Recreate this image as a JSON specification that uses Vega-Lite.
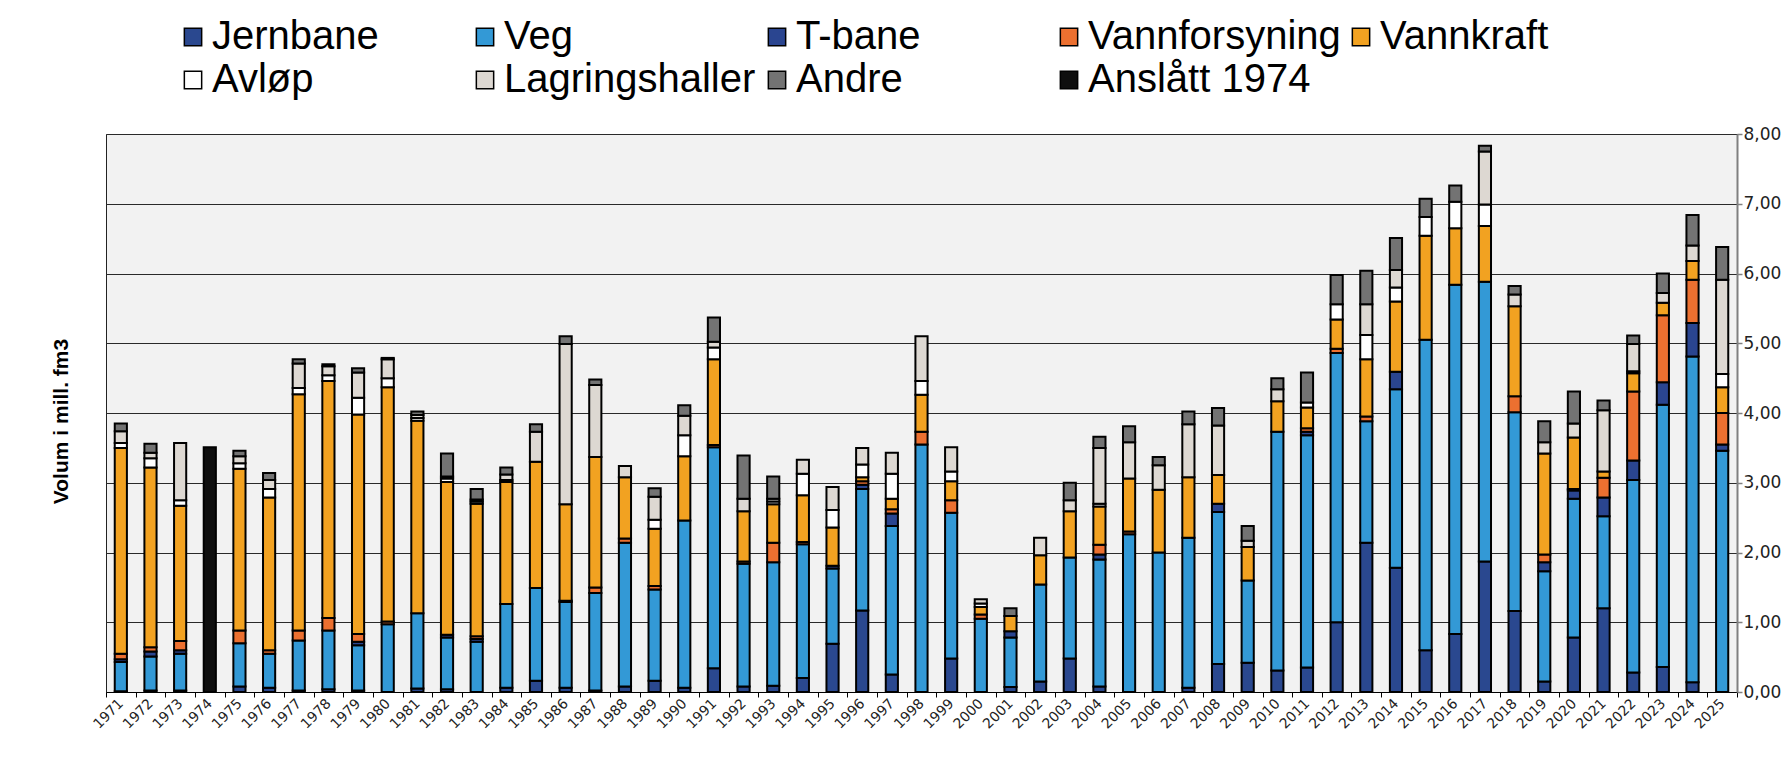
{
  "$schema": "https://vega.github.io/schema/vega-lite/v6.json",
  "width": 1631,
  "height": 558,
  "autosize": "none",
  "padding": {"left": 106, "top": 134, "right": 51, "bottom": 80},
  "background": "white",
  "data": {
    "values": [
      {"year": "1971", "Jernbane": 0.01, "Veg": 0.42, "T-bane": 0.04, "Vannforsyning": 0.08, "Vannkraft": 2.95, "Avløp": 0.07, "Lagringshaller": 0.17, "Andre": 0.11},
      {"year": "1972", "Jernbane": 0.02, "Veg": 0.49, "T-bane": 0.07, "Vannforsyning": 0.06, "Vannkraft": 2.58, "Avløp": 0.13, "Lagringshaller": 0.08, "Andre": 0.13},
      {"year": "1973", "Jernbane": 0.02, "Veg": 0.53, "T-bane": 0.05, "Vannforsyning": 0.13, "Vannkraft": 1.94, "Avløp": 0.08, "Lagringshaller": 0.82},
      {"year": "1974", "Anslått 1974": 3.51},
      {"year": "1975", "Jernbane": 0.08, "Veg": 0.62, "Vannforsyning": 0.18, "Vannkraft": 2.32, "Avløp": 0.08, "Lagringshaller": 0.10, "Andre": 0.08},
      {"year": "1976", "Jernbane": 0.06, "Veg": 0.49, "Vannforsyning": 0.05, "Vannkraft": 2.19, "Avløp": 0.12, "Lagringshaller": 0.13, "Andre": 0.10},
      {"year": "1977", "Jernbane": 0.02, "Veg": 0.72, "Vannforsyning": 0.14, "Vannkraft": 3.39, "Avløp": 0.09, "Lagringshaller": 0.35, "Andre": 0.06},
      {"year": "1978", "Jernbane": 0.04, "Veg": 0.84, "Vannforsyning": 0.18, "Vannkraft": 3.40, "Avløp": 0.08, "Lagringshaller": 0.13, "Andre": 0.03},
      {"year": "1979", "Jernbane": 0.02, "Veg": 0.65, "T-bane": 0.05, "Vannforsyning": 0.11, "Vannkraft": 3.15, "Avløp": 0.24, "Lagringshaller": 0.36, "Andre": 0.06},
      {"year": "1980", "Veg": 0.97, "Vannforsyning": 0.04, "Vannkraft": 3.36, "Avløp": 0.13, "Lagringshaller": 0.27, "Andre": 0.02},
      {"year": "1981", "Jernbane": 0.05, "Veg": 1.08, "Vannkraft": 2.76, "Avløp": 0.04, "Lagringshaller": 0.04, "Andre": 0.05},
      {"year": "1982", "Jernbane": 0.04, "Veg": 0.74, "T-bane": 0.04, "Vannkraft": 2.19, "Avløp": 0.05, "Lagringshaller": 0.03, "Andre": 0.33},
      {"year": "1983", "Veg": 0.72, "T-bane": 0.04, "Vannforsyning": 0.04, "Vannkraft": 1.90, "Avløp": 0.03, "Lagringshaller": 0.03, "Andre": 0.15},
      {"year": "1984", "Jernbane": 0.06, "Veg": 1.20, "Vannkraft": 1.75, "Avløp": 0.03, "Lagringshaller": 0.08, "Andre": 0.10},
      {"year": "1985", "Jernbane": 0.16, "Veg": 1.33, "Vannkraft": 1.81, "Lagringshaller": 0.43, "Andre": 0.11},
      {"year": "1986", "Jernbane": 0.06, "Veg": 1.23, "T-bane": 0.02, "Vannkraft": 1.38, "Lagringshaller": 2.30, "Andre": 0.11},
      {"year": "1987", "Jernbane": 0.02, "Veg": 1.40, "Vannforsyning": 0.08, "Vannkraft": 1.87, "Lagringshaller": 1.03, "Andre": 0.08},
      {"year": "1988", "Jernbane": 0.08, "Veg": 2.06, "Vannforsyning": 0.06, "Vannkraft": 0.88, "Lagringshaller": 0.16},
      {"year": "1989", "Jernbane": 0.16, "Veg": 1.31, "Vannforsyning": 0.05, "Vannkraft": 0.82, "Avløp": 0.13, "Lagringshaller": 0.33, "Andre": 0.12},
      {"year": "1990", "Jernbane": 0.06, "Veg": 2.40, "Vannkraft": 0.92, "Avløp": 0.30, "Lagringshaller": 0.28, "Andre": 0.15},
      {"year": "1991", "Jernbane": 0.34, "Veg": 3.17, "Vannforsyning": 0.03, "Vannkraft": 1.23, "Avløp": 0.17, "Lagringshaller": 0.08, "Andre": 0.35},
      {"year": "1992", "Jernbane": 0.08, "Veg": 1.76, "Vannforsyning": 0.03, "Vannkraft": 0.72, "Lagringshaller": 0.18, "Andre": 0.62},
      {"year": "1993", "Jernbane": 0.09, "Veg": 1.77, "Vannforsyning": 0.28, "Vannkraft": 0.55, "Avløp": 0.04, "Lagringshaller": 0.04, "Andre": 0.32},
      {"year": "1994", "Jernbane": 0.20, "Veg": 1.92, "Vannforsyning": 0.03, "Vannkraft": 0.67, "Avløp": 0.31, "Lagringshaller": 0.20},
      {"year": "1995", "Jernbane": 0.69, "Veg": 1.08, "T-bane": 0.04, "Vannkraft": 0.55, "Avløp": 0.25, "Lagringshaller": 0.33},
      {"year": "1996", "Jernbane": 1.17, "Veg": 1.74, "T-bane": 0.06, "Vannforsyning": 0.05, "Vannkraft": 0.06, "Avløp": 0.18, "Lagringshaller": 0.24},
      {"year": "1997", "Jernbane": 0.25, "Veg": 2.13, "T-bane": 0.18, "Vannforsyning": 0.06, "Vannkraft": 0.15, "Avløp": 0.36, "Lagringshaller": 0.30},
      {"year": "1998", "Veg": 3.55, "Vannforsyning": 0.18, "Vannkraft": 0.53, "Avløp": 0.20, "Lagringshaller": 0.64},
      {"year": "1999", "Jernbane": 0.48, "Veg": 2.09, "Vannforsyning": 0.18, "Vannkraft": 0.27, "Avløp": 0.14, "Lagringshaller": 0.35},
      {"year": "2000", "Veg": 1.05, "Vannforsyning": 0.06, "Vannkraft": 0.11, "Avløp": 0.05, "Lagringshaller": 0.06},
      {"year": "2001", "Jernbane": 0.07, "Veg": 0.71, "T-bane": 0.09, "Vannkraft": 0.22, "Andre": 0.11},
      {"year": "2002", "Jernbane": 0.15, "Veg": 1.39, "Vannkraft": 0.42, "Lagringshaller": 0.25},
      {"year": "2003", "Jernbane": 0.48, "Veg": 1.45, "Vannkraft": 0.66, "Lagringshaller": 0.16, "Andre": 0.25},
      {"year": "2004", "Jernbane": 0.08, "Veg": 1.82, "T-bane": 0.07, "Vannforsyning": 0.14, "Vannkraft": 0.55, "Avløp": 0.04, "Lagringshaller": 0.80, "Andre": 0.16},
      {"year": "2005", "Veg": 2.26, "Vannforsyning": 0.04, "Vannkraft": 0.76, "Lagringshaller": 0.52, "Andre": 0.23},
      {"year": "2006", "Veg": 2.00, "Vannkraft": 0.90, "Lagringshaller": 0.35, "Andre": 0.12},
      {"year": "2007", "Jernbane": 0.06, "Veg": 2.15, "Vannkraft": 0.87, "Lagringshaller": 0.76, "Andre": 0.18},
      {"year": "2008", "Jernbane": 0.40, "Veg": 2.18, "T-bane": 0.12, "Vannkraft": 0.41, "Lagringshaller": 0.71, "Andre": 0.25},
      {"year": "2009", "Jernbane": 0.42, "Veg": 1.18, "Vannkraft": 0.48, "Lagringshaller": 0.09, "Andre": 0.21},
      {"year": "2010", "Jernbane": 0.31, "Veg": 3.42, "Vannkraft": 0.44, "Lagringshaller": 0.17, "Andre": 0.16},
      {"year": "2011", "Jernbane": 0.35, "Veg": 3.33, "T-bane": 0.05, "Vannforsyning": 0.05, "Vannkraft": 0.30, "Avløp": 0.07, "Andre": 0.43},
      {"year": "2012", "Jernbane": 1.00, "Veg": 3.86, "Vannforsyning": 0.06, "Vannkraft": 0.42, "Avløp": 0.22, "Andre": 0.42},
      {"year": "2013", "Jernbane": 2.14, "Veg": 1.74, "Vannforsyning": 0.07, "Vannkraft": 0.82, "Avløp": 0.35, "Lagringshaller": 0.44, "Andre": 0.48},
      {"year": "2014", "Jernbane": 1.78, "Veg": 2.56, "T-bane": 0.25, "Vannkraft": 1.01, "Avløp": 0.20, "Lagringshaller": 0.25, "Andre": 0.46},
      {"year": "2015", "Jernbane": 0.60, "Veg": 4.45, "Vannkraft": 1.49, "Avløp": 0.27, "Andre": 0.26},
      {"year": "2016", "Jernbane": 0.83, "Veg": 5.01, "Vannkraft": 0.81, "Avløp": 0.38, "Andre": 0.23},
      {"year": "2017", "Jernbane": 1.87, "Veg": 4.01, "Vannkraft": 0.80, "Avløp": 0.31, "Lagringshaller": 0.76, "Andre": 0.08},
      {"year": "2018", "Jernbane": 1.16, "Veg": 2.85, "Vannforsyning": 0.23, "Vannkraft": 1.29, "Lagringshaller": 0.17, "Andre": 0.12},
      {"year": "2019", "Jernbane": 0.15, "Veg": 1.58, "T-bane": 0.13, "Vannforsyning": 0.11, "Vannkraft": 1.45, "Lagringshaller": 0.16, "Andre": 0.30},
      {"year": "2020", "Jernbane": 0.78, "Veg": 1.99, "T-bane": 0.12, "Vannforsyning": 0.02, "Vannkraft": 0.74, "Lagringshaller": 0.20, "Andre": 0.46},
      {"year": "2021", "Jernbane": 1.20, "Veg": 1.32, "T-bane": 0.27, "Vannforsyning": 0.28, "Vannkraft": 0.09, "Lagringshaller": 0.88, "Andre": 0.14},
      {"year": "2022", "Jernbane": 0.28, "Veg": 2.76, "T-bane": 0.28, "Vannforsyning": 0.99, "Vannkraft": 0.26, "Avløp": 0.03, "Lagringshaller": 0.39, "Andre": 0.12},
      {"year": "2023", "Jernbane": 0.36, "Veg": 3.76, "T-bane": 0.32, "Vannforsyning": 0.96, "Vannkraft": 0.18, "Lagringshaller": 0.14, "Andre": 0.28},
      {"year": "2024", "Jernbane": 0.14, "Veg": 4.67, "T-bane": 0.48, "Vannforsyning": 0.62, "Vannkraft": 0.27, "Lagringshaller": 0.22, "Andre": 0.44},
      {"year": "2025", "Veg": 3.46, "T-bane": 0.09, "Vannforsyning": 0.45, "Vannkraft": 0.37, "Avløp": 0.19, "Lagringshaller": 1.35, "Andre": 0.47}
    ]
  },
  "transform": [
    {"fold": ["Jernbane", "Veg", "T-bane", "Vannforsyning", "Vannkraft", "Avløp", "Lagringshaller", "Andre", "Anslått 1974"], "as": ["cat", "v"]},
    {"filter": "isValid(datum.v) && datum.v > 0"},
    {"lookup": "cat", "from": {"data": {"values": [
      {"cat": "Jernbane", "idx": 1},
      {"cat": "Veg", "idx": 2},
      {"cat": "T-bane", "idx": 3},
      {"cat": "Vannforsyning", "idx": 4},
      {"cat": "Vannkraft", "idx": 5},
      {"cat": "Avløp", "idx": 6},
      {"cat": "Lagringshaller", "idx": 7},
      {"cat": "Andre", "idx": 8},
      {"cat": "Anslått 1974", "idx": 9}
    ]}, "key": "cat", "fields": ["idx"]}}
  ],
  "mark": {"type": "bar", "width": {"band": 0.41}, "stroke": "black", "strokeWidth": 2, "opacity": 1},
  "encoding": {
    "x": {
      "field": "year", "type": "nominal",
      "scale": {"paddingInner": 0, "paddingOuter": 0},
      "axis": {
        "title": null, "labelAngle": -45, "labelAlign": "right", "labelBaseline": "middle",
        "labelFont": "DejaVu Sans", "labelFontSize": 14, "labelColor": "#222",
        "tickBand": "extent", "tickColor": "black", "tickSize": 5, "domainColor": "black",
        "labelPadding": 4, "grid": false
      }
    },
    "y": {
      "field": "v", "type": "quantitative", "stack": "zero",
      "scale": {"domain": [0, 8], "nice": false},
      "axis": {
        "orient": "right", "values": [0, 1, 2, 3, 4, 5, 6, 7, 8],
        "labelExpr": "replace(format(datum.value, '.2f'), '.', ',')",
        "grid": true, "gridColor": "#2a2a2a", "gridWidth": 1,
        "domainColor": "#808080", "domainWidth": 2,
        "tickColor": "#808080", "tickSize": 5, "tickWidth": 1.5,
        "labelPadding": 1, "labelFont": "DejaVu Sans", "labelFontSize": 17, "labelColor": "#222",
        "title": "Volum i mill. fm3", "titleFont": "Liberation Sans", "titleFontWeight": "bold",
        "titleFontSize": 21, "titleColor": "black", "titleAngle": 270,
        "titleX": -1676, "titleY": 287, "titleAlign": "center", "titleBaseline": "middle"
      }
    },
    "color": {
      "field": "cat", "type": "nominal",
      "scale": {
        "domain": ["Jernbane", "Veg", "T-bane", "Vannforsyning", "Vannkraft", "Avløp", "Lagringshaller", "Andre", "Anslått 1974"],
        "range": ["#2A488F", "#3399D6", "#2A4590", "#EC7030", "#F2A221", "#FFFFFF", "#DDD8D2", "#737373", "#0E0E0E"]
      },
      "legend": {
        "orient": "none", "legendX": 67, "legendY": -117, "direction": "horizontal",
        "columns": 5, "gridAlign": "all", "title": null,
        "symbolType": "square", "symbolSize": 300, "symbolStrokeColor": "black", "symbolStrokeWidth": 1.5,
        "symbolOpacity": 1,
        "labelFont": "Liberation Sans", "labelFontSize": 40, "labelColor": "black", "labelLimit": 600,
        "labelOffset": -1, "columnPadding": -2, "rowPadding": 3, "padding": 0
      }
    },
    "order": {"field": "idx", "type": "quantitative", "sort": "ascending"}
  },
  "config": {
    "view": {"fill": "#F2F2F2", "stroke": "#222", "strokeWidth": 1}
  }
}
